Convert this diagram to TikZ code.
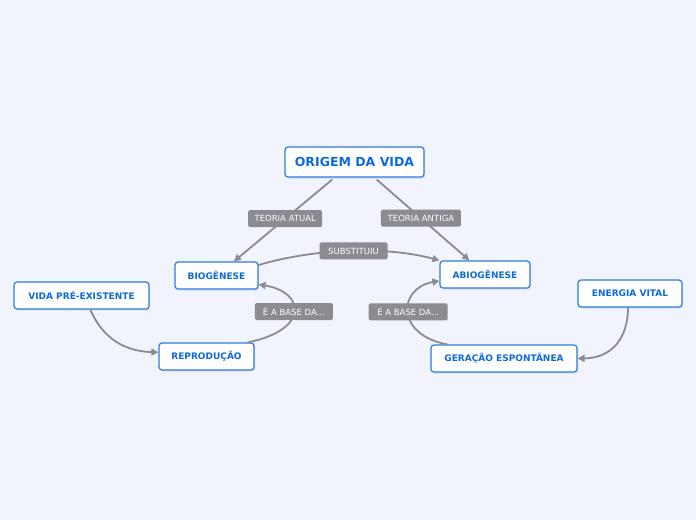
\documentclass[tikz,border=0pt]{standalone}
\usepackage{fontspec}
\setmainfont{DejaVu Sans}
\usetikzlibrary{arrows.meta,shadows}
\definecolor{bgcol}{HTML}{F2F4FD}
\definecolor{boxblue}{HTML}{2B7BE0}
\definecolor{txtblue}{HTML}{0D6BD8}
\definecolor{lnkgrey}{HTML}{8B8B90}
\tikzset{topic/.style={draw=boxblue,line width=1.2pt,fill=white,rounded corners=3pt,
  text=txtblue,font=\bfseries\fontsize{9}{10}\selectfont,inner sep=0pt,minimum height=27pt,
  drop shadow={opacity=0.2,shadow xshift=1pt,shadow yshift=-1.5pt}}}
\tikzset{lbl/.style={fill=lnkgrey,text=white,rounded corners=1.5pt,inner sep=0pt,
  font=\fontsize{8.5}{9}\selectfont,minimum height=17pt}}
\tikzset{link/.style={draw=lnkgrey,line width=1.8pt,-{Triangle[length=7pt,width=7pt]}}}

\begin{document}
\begin{tikzpicture}[x=1pt,y=-1pt]
\fill[bgcol] (0,0) rectangle (696,520);
\useasboundingbox (0,0) rectangle (696,520);

\node[topic,minimum width=139pt,minimum height=30pt,font=\bfseries\fontsize{12.5}{13}\selectfont] (origem) at (354.5,162) {ORIGEM DA VIDA};
\node[topic,minimum width=83pt] (bio) at (216.5,275.5) {BIOGÊNESE};
\node[topic,minimum width=90pt] (abio) at (485,274.5) {ABIOGÊNESE};
\node[topic,minimum width=135pt] (vida) at (81.5,295.5) {VIDA PRÉ-EXISTENTE};
\node[topic,minimum width=95pt] (rep) at (206.5,356.5) {REPRODUÇÃO};
\node[topic,minimum width=104pt] (energia) at (630,293.5) {ENERGIA VITAL};
\node[topic,minimum width=146pt] (geracao) at (504,358.5) {GERAÇÃO ESPONTÂNEA};

\draw[link,shorten <=3pt] (origem.-142) -- (bio.39)
  node[lbl,pos=0.49,minimum width=74pt] (atual) {TEORIA ATUAL};
\draw[link,shorten <=3pt] (origem.-38) -- (abio.138)
  node[lbl,pos=0.49,minimum width=80pt] (antiga) {TEORIA ANTIGA};
\draw[link] (bio.14) .. controls (320,247) and (390,247) .. (abio.north west)
  node[lbl,pos=0.5,minimum width=68pt] (subst) {SUBSTITUIU};
\draw[link] (rep.19) .. controls (310,330) and (305,292) .. (bio.-12)
  node[lbl,pos=0.5,minimum width=78pt] (base1) {É A BASE DA...};
\draw[link] (geracao.166) .. controls (395,335) and (398,288) .. (abio.188)
  node[lbl,pos=0.5,minimum width=79pt] (base2) {É A BASE DA...};

\draw[link] (vida.-58) .. controls (100,332) and (118,351) .. (rep.175);
\draw[link] (energia.-98) .. controls (628,338) and (612,358) .. (geracao.east);

\end{tikzpicture}
\end{document}
